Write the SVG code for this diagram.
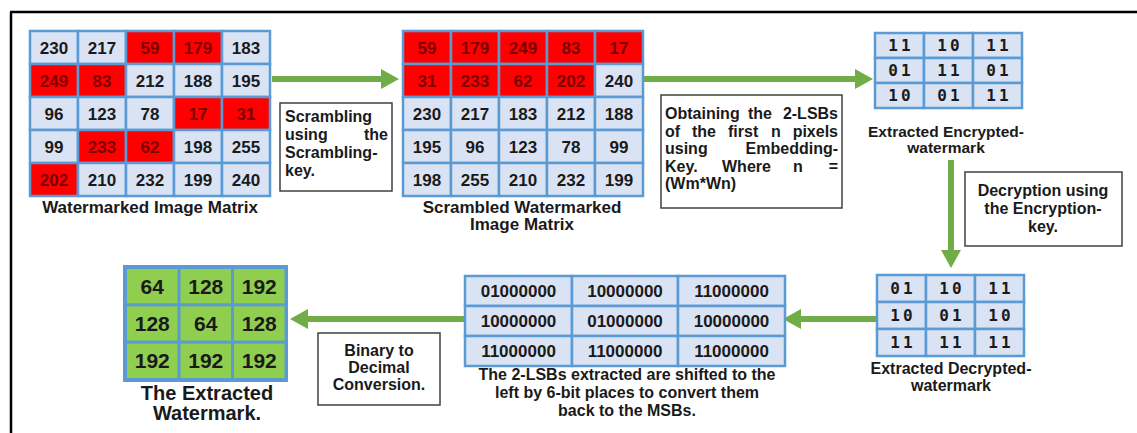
<svg xmlns="http://www.w3.org/2000/svg" width="1137" height="433" viewBox="0 0 1137 433">
  <defs>
    <style>
      .cell { fill: #dae3f3; stroke: #5b9bd5; stroke-width: 2.5; }
      .red { fill: #ff0000; stroke: #5b9bd5; stroke-width: 2.5; }
      .grn { fill: #8fce4f; }
      .num { font-family: "Liberation Sans", Arial, sans-serif; font-weight: bold; font-size: 17px; fill: #1a1a1a; text-anchor: middle; }
      .num.dk { fill: #7a0000; }
      .bin { font-family: "DejaVu Sans Mono", monospace; font-weight: bold; font-size: 16px; fill: #1a1a1a; text-anchor: middle; letter-spacing: 3px; }
      .big { font-family: "Liberation Sans", Arial, sans-serif; font-weight: bold; font-size: 21px; fill: #1a1a1a; text-anchor: middle; }
      .lbl { font-family: "Liberation Sans", Arial, sans-serif; font-weight: bold; font-size: 16px; fill: #1a1a1a; text-anchor: middle; }
      .lbl15 { font-size: 15.5px; }
      .lbl17 { font-size: 17px; }
      .lbl20 { font-size: 20px; }
      .box { fill: #ffffff; stroke: #404040; stroke-width: 1.5; }
      .bt { font-family: "Liberation Sans", Arial, sans-serif; font-weight: bold; font-size: 16px; fill: #1a1a1a; }
      .flow { stroke: #70ad47; stroke-width: 6; fill: none; }
    </style>
    <marker id="head" markerUnits="userSpaceOnUse" markerWidth="18" markerHeight="20" viewBox="0 0 18 20" refX="0" refY="10" orient="auto">
      <path d="M0,0 L18,10 L0,20 z" fill="#70ad47"/>
    </marker>
  </defs>

  <rect x="0" y="0" width="1137" height="433" fill="#ffffff"/>

  <!-- frame -->
  <g id="frame" stroke="#000000" stroke-width="2.5" fill="none">
    <line x1="10" y1="12" x2="1137" y2="12"/>
    <line x1="11" y1="12" x2="11" y2="433"/>
  </g>

  <!-- connectors -->
  <g id="connectors">
    <line class="flow" x1="272" y1="79" x2="381" y2="79" marker-end="url(#head)"/>
    <line class="flow" x1="643" y1="79" x2="855" y2="79" marker-end="url(#head)"/>
    <line class="flow" x1="951" y1="160" x2="951" y2="250" marker-end="url(#head)"/>
    <line class="flow" x1="877" y1="319" x2="801" y2="319" marker-end="url(#head)"/>
    <line class="flow" x1="465" y1="319" x2="308" y2="319" marker-end="url(#head)"/>
  </g>

  <!-- watermarked image matrix -->
  <g id="watermarked-matrix">
    <rect class="cell" x="30" y="31" width="48" height="33"/><rect class="cell" x="78" y="31" width="48" height="33"/><rect class="red" x="126" y="31" width="48" height="33"/><rect class="red" x="174" y="31" width="48" height="33"/><rect class="cell" x="222" y="31" width="48" height="33"/>
    <rect class="red" x="30" y="64" width="48" height="33"/><rect class="red" x="78" y="64" width="48" height="33"/><rect class="cell" x="126" y="64" width="48" height="33"/><rect class="cell" x="174" y="64" width="48" height="33"/><rect class="cell" x="222" y="64" width="48" height="33"/>
    <rect class="cell" x="30" y="97" width="48" height="33"/><rect class="cell" x="78" y="97" width="48" height="33"/><rect class="cell" x="126" y="97" width="48" height="33"/><rect class="red" x="174" y="97" width="48" height="33"/><rect class="red" x="222" y="97" width="48" height="33"/>
    <rect class="cell" x="30" y="130" width="48" height="33"/><rect class="red" x="78" y="130" width="48" height="33"/><rect class="red" x="126" y="130" width="48" height="33"/><rect class="cell" x="174" y="130" width="48" height="33"/><rect class="cell" x="222" y="130" width="48" height="33"/>
    <rect class="red" x="30" y="163" width="48" height="33"/><rect class="cell" x="78" y="163" width="48" height="33"/><rect class="cell" x="126" y="163" width="48" height="33"/><rect class="cell" x="174" y="163" width="48" height="33"/><rect class="cell" x="222" y="163" width="48" height="33"/>
    <text class="num" x="54" y="53.5">230</text><text class="num" x="102" y="53.5">217</text><text class="num dk" x="150" y="53.5">59</text><text class="num dk" x="198" y="53.5">179</text><text class="num" x="246" y="53.5">183</text>
    <text class="num dk" x="54" y="86.5">249</text><text class="num dk" x="102" y="86.5">83</text><text class="num" x="150" y="86.5">212</text><text class="num" x="198" y="86.5">188</text><text class="num" x="246" y="86.5">195</text>
    <text class="num" x="54" y="119.5">96</text><text class="num" x="102" y="119.5">123</text><text class="num" x="150" y="119.5">78</text><text class="num dk" x="198" y="119.5">17</text><text class="num dk" x="246" y="119.5">31</text>
    <text class="num" x="54" y="152.5">99</text><text class="num dk" x="102" y="152.5">233</text><text class="num dk" x="150" y="152.5">62</text><text class="num" x="198" y="152.5">198</text><text class="num" x="246" y="152.5">255</text>
    <text class="num dk" x="54" y="185.5">202</text><text class="num" x="102" y="185.5">210</text><text class="num" x="150" y="185.5">232</text><text class="num" x="198" y="185.5">199</text><text class="num" x="246" y="185.5">240</text>
    <text class="lbl lbl17" x="150" y="213">Watermarked Image Matrix</text>
  </g>

  <!-- scrambling step -->
  <g id="scrambling-note">
    <rect class="box" x="280" y="103" width="112" height="88"/>
    <text class="bt" x="285" y="122">Scrambling</text>
    <text class="bt" x="285" y="140">using</text><text class="bt" x="388" y="140" text-anchor="end">the</text>
    <text class="bt" x="285" y="158">Scrambling-</text>
    <text class="bt" x="285" y="176">key.</text>
  </g>

  <!-- scrambled watermarked image matrix -->
  <g id="scrambled-matrix">
    <rect class="red" x="403" y="31" width="48" height="33"/><rect class="red" x="451" y="31" width="48" height="33"/><rect class="red" x="499" y="31" width="48" height="33"/><rect class="red" x="547" y="31" width="48" height="33"/><rect class="red" x="595" y="31" width="48" height="33"/>
    <rect class="red" x="403" y="64" width="48" height="33"/><rect class="red" x="451" y="64" width="48" height="33"/><rect class="red" x="499" y="64" width="48" height="33"/><rect class="red" x="547" y="64" width="48" height="33"/><rect class="cell" x="595" y="64" width="48" height="33"/>
    <rect class="cell" x="403" y="97" width="48" height="33"/><rect class="cell" x="451" y="97" width="48" height="33"/><rect class="cell" x="499" y="97" width="48" height="33"/><rect class="cell" x="547" y="97" width="48" height="33"/><rect class="cell" x="595" y="97" width="48" height="33"/>
    <rect class="cell" x="403" y="130" width="48" height="33"/><rect class="cell" x="451" y="130" width="48" height="33"/><rect class="cell" x="499" y="130" width="48" height="33"/><rect class="cell" x="547" y="130" width="48" height="33"/><rect class="cell" x="595" y="130" width="48" height="33"/>
    <rect class="cell" x="403" y="163" width="48" height="33"/><rect class="cell" x="451" y="163" width="48" height="33"/><rect class="cell" x="499" y="163" width="48" height="33"/><rect class="cell" x="547" y="163" width="48" height="33"/><rect class="cell" x="595" y="163" width="48" height="33"/>
    <text class="num dk" x="427" y="53.5">59</text><text class="num dk" x="475" y="53.5">179</text><text class="num dk" x="523" y="53.5">249</text><text class="num dk" x="571" y="53.5">83</text><text class="num dk" x="619" y="53.5">17</text>
    <text class="num dk" x="427" y="86.5">31</text><text class="num dk" x="475" y="86.5">233</text><text class="num dk" x="523" y="86.5">62</text><text class="num dk" x="571" y="86.5">202</text><text class="num" x="619" y="86.5">240</text>
    <text class="num" x="427" y="119.5">230</text><text class="num" x="475" y="119.5">217</text><text class="num" x="523" y="119.5">183</text><text class="num" x="571" y="119.5">212</text><text class="num" x="619" y="119.5">188</text>
    <text class="num" x="427" y="152.5">195</text><text class="num" x="475" y="152.5">96</text><text class="num" x="523" y="152.5">123</text><text class="num" x="571" y="152.5">78</text><text class="num" x="619" y="152.5">99</text>
    <text class="num" x="427" y="185.5">198</text><text class="num" x="475" y="185.5">255</text><text class="num" x="523" y="185.5">210</text><text class="num" x="571" y="185.5">232</text><text class="num" x="619" y="185.5">199</text>
    <text class="lbl lbl17" x="522" y="213">Scrambled Watermarked</text>
    <text class="lbl lbl17" x="522" y="230">Image Matrix</text>
  </g>

  <!-- LSB extraction step: justified words -->
  <g id="extraction-note">
    <rect class="box" x="661" y="95" width="181" height="113"/>
    <text class="bt" x="665" y="119">Obtaining</text><text class="bt" x="748" y="119">the</text><text class="bt" x="838" y="119" text-anchor="end">2-LSBs</text>
    <text class="bt" x="665" y="136.5">of</text><text class="bt" x="692" y="136.5">the</text><text class="bt" x="728" y="136.5">first</text><text class="bt" x="771" y="136.5">n</text><text class="bt" x="838" y="136.5" text-anchor="end">pixels</text>
    <text class="bt" x="665" y="154">using</text><text class="bt" x="838" y="154" text-anchor="end">Embedding-</text>
    <text class="bt" x="665" y="171.5">Key.</text><text class="bt" x="722" y="171.5">Where</text><text class="bt" x="793" y="171.5">n</text><text class="bt" x="838" y="171.5" text-anchor="end">=</text>
    <text class="bt" x="665" y="189">(Wm*Wn)</text>
  </g>

  <!-- extracted encrypted watermark -->
  <g id="encrypted-watermark">
    <rect class="cell" x="875" y="33" width="49" height="25"/><rect class="cell" x="924" y="33" width="49" height="25"/><rect class="cell" x="973" y="33" width="49" height="25"/>
    <rect class="cell" x="875" y="58" width="49" height="25"/><rect class="cell" x="924" y="58" width="49" height="25"/><rect class="cell" x="973" y="58" width="49" height="25"/>
    <rect class="cell" x="875" y="83" width="49" height="25"/><rect class="cell" x="924" y="83" width="49" height="25"/><rect class="cell" x="973" y="83" width="49" height="25"/>
    <text class="bin" x="901" y="51">11</text><text class="bin" x="950" y="51">10</text><text class="bin" x="999" y="51">11</text>
    <text class="bin" x="901" y="76">01</text><text class="bin" x="950" y="76">11</text><text class="bin" x="999" y="76">01</text>
    <text class="bin" x="901" y="101">10</text><text class="bin" x="950" y="101">01</text><text class="bin" x="999" y="101">11</text>
    <text class="lbl lbl15" x="946" y="136.5">Extracted Encrypted-</text>
    <text class="lbl lbl15" x="946" y="152.5">watermark</text>
  </g>

  <!-- decryption step -->
  <g id="decryption-note">
    <rect class="box" x="965" y="172" width="157" height="74"/>
    <text class="lbl" x="1043" y="196">Decryption using</text>
    <text class="lbl" x="1043" y="214">the Encryption-</text>
    <text class="lbl" x="1043" y="232">key.</text>
  </g>

  <!-- extracted decrypted watermark -->
  <g id="decrypted-watermark">
    <rect class="cell" x="877" y="275" width="49" height="27"/><rect class="cell" x="926" y="275" width="49" height="27"/><rect class="cell" x="975" y="275" width="49" height="27"/>
    <rect class="cell" x="877" y="302" width="49" height="27"/><rect class="cell" x="926" y="302" width="49" height="27"/><rect class="cell" x="975" y="302" width="49" height="27"/>
    <rect class="cell" x="877" y="329" width="49" height="27"/><rect class="cell" x="926" y="329" width="49" height="27"/><rect class="cell" x="975" y="329" width="49" height="27"/>
    <text class="bin" x="903" y="294">01</text><text class="bin" x="952" y="294">10</text><text class="bin" x="1001" y="294">11</text>
    <text class="bin" x="903" y="321">10</text><text class="bin" x="952" y="321">01</text><text class="bin" x="1001" y="321">10</text>
    <text class="bin" x="903" y="348">11</text><text class="bin" x="952" y="348">11</text><text class="bin" x="1001" y="348">11</text>
    <text class="lbl" x="951" y="374">Extracted Decrypted-</text>
    <text class="lbl" x="951" y="391">watermark</text>
  </g>

  <!-- shifted MSB matrix -->
  <g id="shifted-matrix">
    <rect class="cell" x="465" y="276" width="107" height="30"/><rect class="cell" x="572" y="276" width="106" height="30"/><rect class="cell" x="678" y="276" width="107" height="30"/>
    <rect class="cell" x="465" y="306" width="107" height="30"/><rect class="cell" x="572" y="306" width="106" height="30"/><rect class="cell" x="678" y="306" width="107" height="30"/>
    <rect class="cell" x="465" y="336" width="107" height="30"/><rect class="cell" x="572" y="336" width="106" height="30"/><rect class="cell" x="678" y="336" width="107" height="30"/>
    <text class="num" x="518.5" y="297">01000000</text><text class="num" x="625" y="297">10000000</text><text class="num" x="731.5" y="297">11000000</text>
    <text class="num" x="518.5" y="327">10000000</text><text class="num" x="625" y="327">01000000</text><text class="num" x="731.5" y="327">10000000</text>
    <text class="num" x="518.5" y="357">11000000</text><text class="num" x="625" y="357">11000000</text><text class="num" x="731.5" y="357">11000000</text>
    <text class="lbl" x="627" y="380">The 2-LSBs extracted are shifted to the</text>
    <text class="lbl" x="627" y="398">left by 6-bit places to convert them</text>
    <text class="lbl" x="627" y="416">back to the MSBs.</text>
  </g>

  <!-- conversion step -->
  <g id="conversion-note">
    <rect class="box" x="318" y="333" width="122" height="72"/>
    <text class="lbl" x="379" y="356">Binary to</text>
    <text class="lbl" x="379" y="373">Decimal</text>
    <text class="lbl" x="379" y="390">Conversion.</text>
  </g>

  <!-- extracted watermark -->
  <g id="extracted-watermark">
    <rect x="123" y="265" width="165" height="117" fill="#5b9bd5"/>
    <rect class="grn" x="127" y="269" width="50.5" height="34.3"/><rect class="grn" x="180.5" y="269" width="50.5" height="34.3"/><rect class="grn" x="234" y="269" width="50.5" height="34.3"/>
    <rect class="grn" x="127" y="306.3" width="50.5" height="34.3"/><rect class="grn" x="180.5" y="306.3" width="50.5" height="34.3"/><rect class="grn" x="234" y="306.3" width="50.5" height="34.3"/>
    <rect class="grn" x="127" y="343.6" width="50.5" height="34.4"/><rect class="grn" x="180.5" y="343.6" width="50.5" height="34.4"/><rect class="grn" x="234" y="343.6" width="50.5" height="34.4"/>
    <text class="big" x="152.3" y="293.5">64</text><text class="big" x="205.8" y="293.5">128</text><text class="big" x="259.3" y="293.5">192</text>
    <text class="big" x="152.3" y="331">128</text><text class="big" x="205.8" y="331">64</text><text class="big" x="259.3" y="331">128</text>
    <text class="big" x="152.3" y="368.3">192</text><text class="big" x="205.8" y="368.3">192</text><text class="big" x="259.3" y="368.3">192</text>
    <text class="lbl lbl20" x="207" y="400">The Extracted</text>
    <text class="lbl lbl20" x="207" y="420">Watermark.</text>
  </g>
</svg>
